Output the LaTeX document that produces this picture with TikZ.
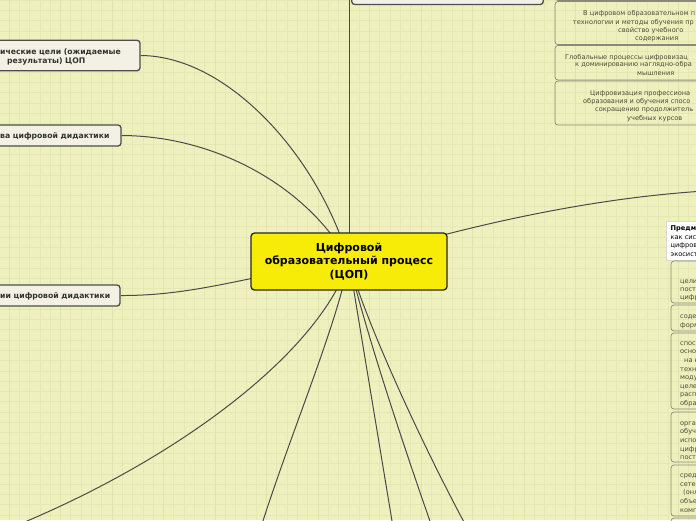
\documentclass[tikz,border=0pt]{standalone}
\usepackage{fontspec}
\setmainfont{DejaVu Sans}
\definecolor{bgc}{HTML}{EEF1BE}
\definecolor{gridc}{HTML}{E4E8B2}
\definecolor{gridm}{HTML}{DFE3AC}
\definecolor{linec}{HTML}{4A4A4A}
\definecolor{boxedge}{HTML}{4D4D4D}
\definecolor{boxfill}{HTML}{F3F1E3}
\definecolor{leafedge}{HTML}{8A8A78}
\definecolor{leaftext}{HTML}{4A4A3A}
\definecolor{centerfill}{HTML}{F6EC08}
\pgfdeclarelayer{bglayer}
\pgfdeclarelayer{edgelayer}
\pgfsetlayers{bglayer,edgelayer,main}
\tikzset{
  conn/.style={draw=linec, line width=1pt},
  mainbox/.style={draw=boxedge, fill=boxfill, line width=1.3pt, rounded corners=3pt, inner sep=0pt},
  leafbox/.style={draw=leafedge, line width=0.7pt, rounded corners=3pt, inner sep=0pt},
  centerbox/.style={draw=black!85, fill=centerfill, line width=1.3pt, rounded corners=3.5pt, align=center,
     minimum width=196pt, minimum height=57pt, inner sep=0pt, font=\bfseries\fontsize{11}{13.5}\selectfont},
  boldtxt/.style={anchor=base west, inner sep=0pt, text=black!80, font=\bfseries\fontsize{7.7}{9}\selectfont},
  smalltxt/.style={anchor=base west, inner sep=0pt, text=leaftext, font=\fontsize{6.6}{8}\selectfont},
}
\begin{document}
\begin{tikzpicture}[x=1pt,y=-1pt]
\useasboundingbox (0,0) rectangle (696,520);
\clip (0,0) rectangle (696,520);
\begin{pgfonlayer}{bglayer}
  \fill[bgc] (0,0) rectangle (696,520);
  \foreach \k in {0,...,67} \draw[gridc, line width=0.7pt] ({9+10.3*\k},0) -- ({9+10.3*\k},520);
  \foreach \k in {0,...,50} \draw[gridc, line width=0.7pt] (0,{0.1+10.3*\k}) -- (696,{0.1+10.3*\k});
  \foreach \k in {0,...,13} \draw[gridm, line width=0.9pt] ({9+51.5*\k},0) -- ({9+51.5*\k},520);
\end{pgfonlayer}

% central node
\node[centerbox] (c) at (349,261.5) {Цифровой\\образовательный процесс\\(ЦОП)};

% top box
\node[mainbox, minimum width=191.5pt, minimum height=40pt] (top) at (447.5,-15.5) {};

% left boxes
\node[mainbox, minimum width=200pt, minimum height=30.5pt] (lb1) at (40,55.5) {};
\node[boldtxt] (lb1a) at (0,54.6) {ические цели (ожидаемые};
\node[boldtxt] (lb1b) at (7,63.4) {результаты) ЦОП};
\node[mainbox, minimum width=180pt, minimum height=21pt] (lb2) at (31,135.5) {};
\node[boldtxt] (lb2a) at (0,138.4) {ва цифровой дидактики};
\node[mainbox, minimum width=180pt, minimum height=21pt] (lb3) at (30,295.5) {};
\node[boldtxt] (lb3a) at (0,298.4) {ии цифровой дидактики};

% top-right leaf boxes
\node[leafbox, minimum width=200pt, minimum height=40pt] (tr0) at (655,-19.5) {};
\node[leafbox, minimum width=200pt, minimum height=43pt] (tr1) at (655,23) {};
\node[leafbox, minimum width=200pt, minimum height=34.5pt] (tr2) at (655,62.75) {};
\node[leafbox, minimum width=200pt, minimum height=44pt] (tr3) at (655,103) {};
\foreach \t/\x/\y [count=\i] in {
  {В цифровом образовательном п}/583/15.6,
  {технологии и методы обучения пр}/572.7/24,
  {свойство учебного}/618/32.3,
  {содержания}/635/40.6,
  {Глобальные процессы цифровизац}/565/59,
  {к доминированию наглядно-обра}/575/66.6,
  {мышления}/637/75,
  {Цифровизация профессиона}/590/95.6,
  {образования и обучения спосо}/583/103.3,
  {сокращению продолжитель}/595/111.6,
  {учебных курсов}/627/120}
  \node[smalltxt] (trt\i) at (\x,\y) {\t};

% right column
\node[draw=white!85!black, fill=white, line width=0.5pt, minimum width=60pt, minimum height=39pt, inner sep=0pt] (rp) at (696,240.5) {};
\node[smalltxt, text=black, font=\bfseries\fontsize{6.6}{8}\selectfont] (rpa) at (670.5,230.3) {Предм};
\node[smalltxt, text=black] (rpb) at (670.5,239.3) {как сис};
\node[smalltxt, text=black] (rpc) at (670.5,247.8) {цифров};
\node[smalltxt, text=black] (rpd) at (670.5,256.3) {экосист};

\node[leafbox, minimum width=60pt, minimum height=42pt] (rc1) at (701,282) {};
\node[leafbox, minimum width=60pt, minimum height=26pt] (rc2) at (701,318) {};
\node[leafbox, minimum width=60pt, minimum height=76pt] (rc3) at (701,371) {};
\node[leafbox, minimum width=60pt, minimum height=50pt] (rc4) at (701,437) {};
\node[leafbox, minimum width=60pt, minimum height=51pt] (rc5) at (701,490.5) {};
\node[leafbox, minimum width=60pt, minimum height=30pt] (rc6) at (701,533) {};
\foreach \t/\x/\y [count=\i] in {
  {цели}/680/283.3, {пост}/680/291.8, {цифр}/680/299.8,
  {соде}/680/318.3, {форм}/680/327.3,
  {спос}/680/345.3, {осно}/680/353.8, {на к}/684/362.3, {техн}/680/371.3, {моду}/680/379.3, {целе}/680/388.3, {расп}/680/396.8, {обра}/680/405.3,
  {орга}/680/425.3, {обуч}/680/433.8, {испо}/680/442.3, {цифр}/680/451.3, {пост}/680/459.3,
  {сред}/680/477.3, {сете}/680/486.3, {(онл}/683/494.8, {объе}/680/503.3, {комп}/680/512.3}
  \node[smalltxt] (rct\i) at (\x,\y) {\t};

% free ends
\coordinate (eTop) at (349,-10);
\coordinate (eR) at (705,191);
\coordinate (e1) at (20,524);
\coordinate (e2) at (262,524);
\coordinate (e3) at (392.5,524);
\coordinate (e4) at (431,524);
\coordinate (e5) at (465,524);

\begin{pgfonlayer}{edgelayer}
  \draw[conn] (c.center) -- (eTop);
  \draw[conn] (c.center) .. controls (320,160) and (230,56) .. (lb1.east);
  \draw[conn] (c.center) .. controls (310,190) and (220,136) .. (lb2.east);
  \draw[conn] (c.center) .. controls (260,272) and (200,296) .. (lb3.east);
  \draw[conn] (c.center) .. controls (420,240) and (560,200) .. (eR);
  \draw[conn] (c.center) .. controls (320,350) and (185,455) .. (e1);
  \draw[conn] (c.center) .. controls (335,330) and (292,430) .. (e2);
  \draw[conn] (c.center) -- (e3);
  \draw[conn] (c.center) .. controls (365,330) and (405,450) .. (e4);
  \draw[conn] (c.center) .. controls (365,320) and (420,440) .. (e5);
\end{pgfonlayer}
\end{tikzpicture}
\end{document}
